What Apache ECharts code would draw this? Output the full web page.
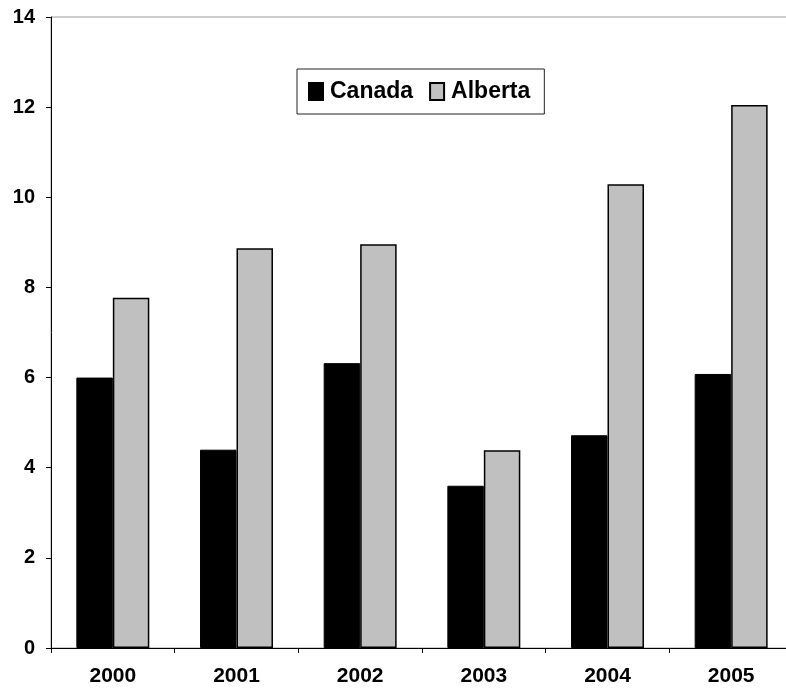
<!DOCTYPE html>
<html>
<head>
<meta charset="utf-8">
<script src="https://cdn.jsdelivr.net/npm/echarts@6/dist/echarts.min.js"></script>
<style>
  html, body { margin: 0; padding: 0; background: #fff; }
  #chart { width: 786px; height: 690px; }
</style>
</head>
<body>
<div id="chart"></div>
<script>
// Years on the category axis
const years = ['2000', '2001', '2002', '2003', '2004', '2005'];
// Annual values for each region
const canada = [6.0, 4.4, 6.32, 3.6, 4.72, 6.08];
const alberta = [7.77, 8.87, 8.96, 4.39, 10.29, 12.05];
// Value-axis range and step
const yMin = 0;
const yMax = 14;
const yStep = 2;

const FONT = 'Liberation Sans, Arial, sans-serif';

const chart = echarts.init(document.getElementById('chart'), null, { renderer: 'canvas' });

chart.setOption({
  animation: false,
  backgroundColor: '#ffffff',
  grid: {
    left: 51,
    top: 17,
    width: 742,
    height: 631,
    outerBoundsMode: 'none',
    containLabel: false,
    show: true,
    borderColor: '#9a9a9a',
    borderWidth: 1,
    backgroundColor: 'transparent'
  },
  legend: {
    left: 297,
    top: 69,
    padding: [11, 14, 11, 11],
    borderColor: '#222',
    borderWidth: 1,
    itemWidth: 14,
    itemHeight: 17,
    itemGap: 16,
    icon: 'rect',
    textStyle: { fontFamily: FONT, fontWeight: 'bold', fontSize: 23, color: '#000', padding: [0, 0, 0, 2] },
    data: ['Canada', 'Alberta']
  },
  xAxis: {
    type: 'category',
    data: years,
    axisLine: { lineStyle: { color: '#000', width: 1 } },
    axisTick: { show: true, alignWithLabel: false, length: 5, lineStyle: { color: '#000' } },
    axisLabel: { fontFamily: FONT, fontWeight: 'bold', fontSize: 21, color: '#000', margin: 18 },
    splitLine: { show: false }
  },
  yAxis: {
    type: 'value',
    min: yMin,
    max: yMax,
    interval: yStep,
    axisLine: { show: true, lineStyle: { color: '#000', width: 1 } },
    axisTick: { show: true, inside: false, length: 5, lineStyle: { color: '#000' } },
    axisLabel: { fontFamily: FONT, fontWeight: 'bold', fontSize: 20, color: '#000', margin: 16 },
    splitLine: { show: false }
  },
  series: [
    {
      name: 'Canada',
      type: 'bar',
      data: canada,
      barGap: '0%',
      barCategoryGap: '41%',
      itemStyle: { color: '#000000', borderColor: '#000000', borderWidth: 1 }
    },
    {
      name: 'Alberta',
      type: 'bar',
      data: alberta,
      barGap: '0%',
      barCategoryGap: '41%',
      itemStyle: { color: '#c0c0c0', borderColor: '#000000', borderWidth: 1.5 }
    }
  ]
});
</script>
</body>
</html>
